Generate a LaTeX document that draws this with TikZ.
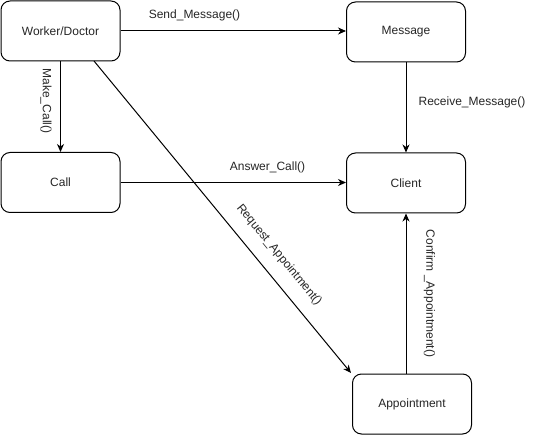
\documentclass[tikz,border=0pt]{standalone}
\usepackage{fontspec}
\setmainfont{Liberation Sans}
\usetikzlibrary{arrows.meta,calc}
\begin{document}
\begin{tikzpicture}[x=1pt,y=-1pt,
  box/.style={draw=black,line width=1pt,rounded corners=9pt,minimum width=119pt,minimum height=60pt,inner sep=0pt,font=\fontsize{12}{14}\selectfont,text=black!85},
  conn/.style={draw=black,line width=1pt,-{Stealth[length=8pt,width=7pt,inset=2.5pt]}},
  lbl/.style={font=\fontsize{12}{14}\selectfont,text=black!85,inner sep=0pt}]
\useasboundingbox[fill=white] (0,0) rectangle (535,435);
\node[box] (W) at (60.5,31) {Worker/Doctor};
\node[box] (M) at (406,32) {Message};
\node[box] (K) at (60.5,182.5) {Call};
\node[box] (C) at (406,183) {Client};
\node[box] (A) at (412,404) {Appointment};
\coordinate (rs) at (94,61);
\coordinate (re) at (351,373);
\draw[conn] (W.east) -- (W.east -| M.west);
\node[lbl] (l1) at (194.5,15) {Send\_Message()};
\draw[conn] (W.south) -- (K.north);
\node[lbl,rotate=-90] (l2) at (46,101) {Make\_Call()};
\draw[conn] (K.east) -- (K.east -| C.west);
\node[lbl] (l3) at (267.5,167) {Answer\_Call()};
\draw[conn] (M.south) -- (C.north);
\node[lbl] (l4) at (472,102) {Receive\_Message()};
\draw[conn] (rs) -- (re);
\node[lbl,rotate=-50.6] (l5) at (279,255) {Request\_Appointment()};
\draw[conn] (C.south |- A.north) -- (C.south);
\node[lbl,rotate=-90] (l6) at (429.5,293.5) {Confirm \_Appointment()};
\end{tikzpicture}
\end{document}
